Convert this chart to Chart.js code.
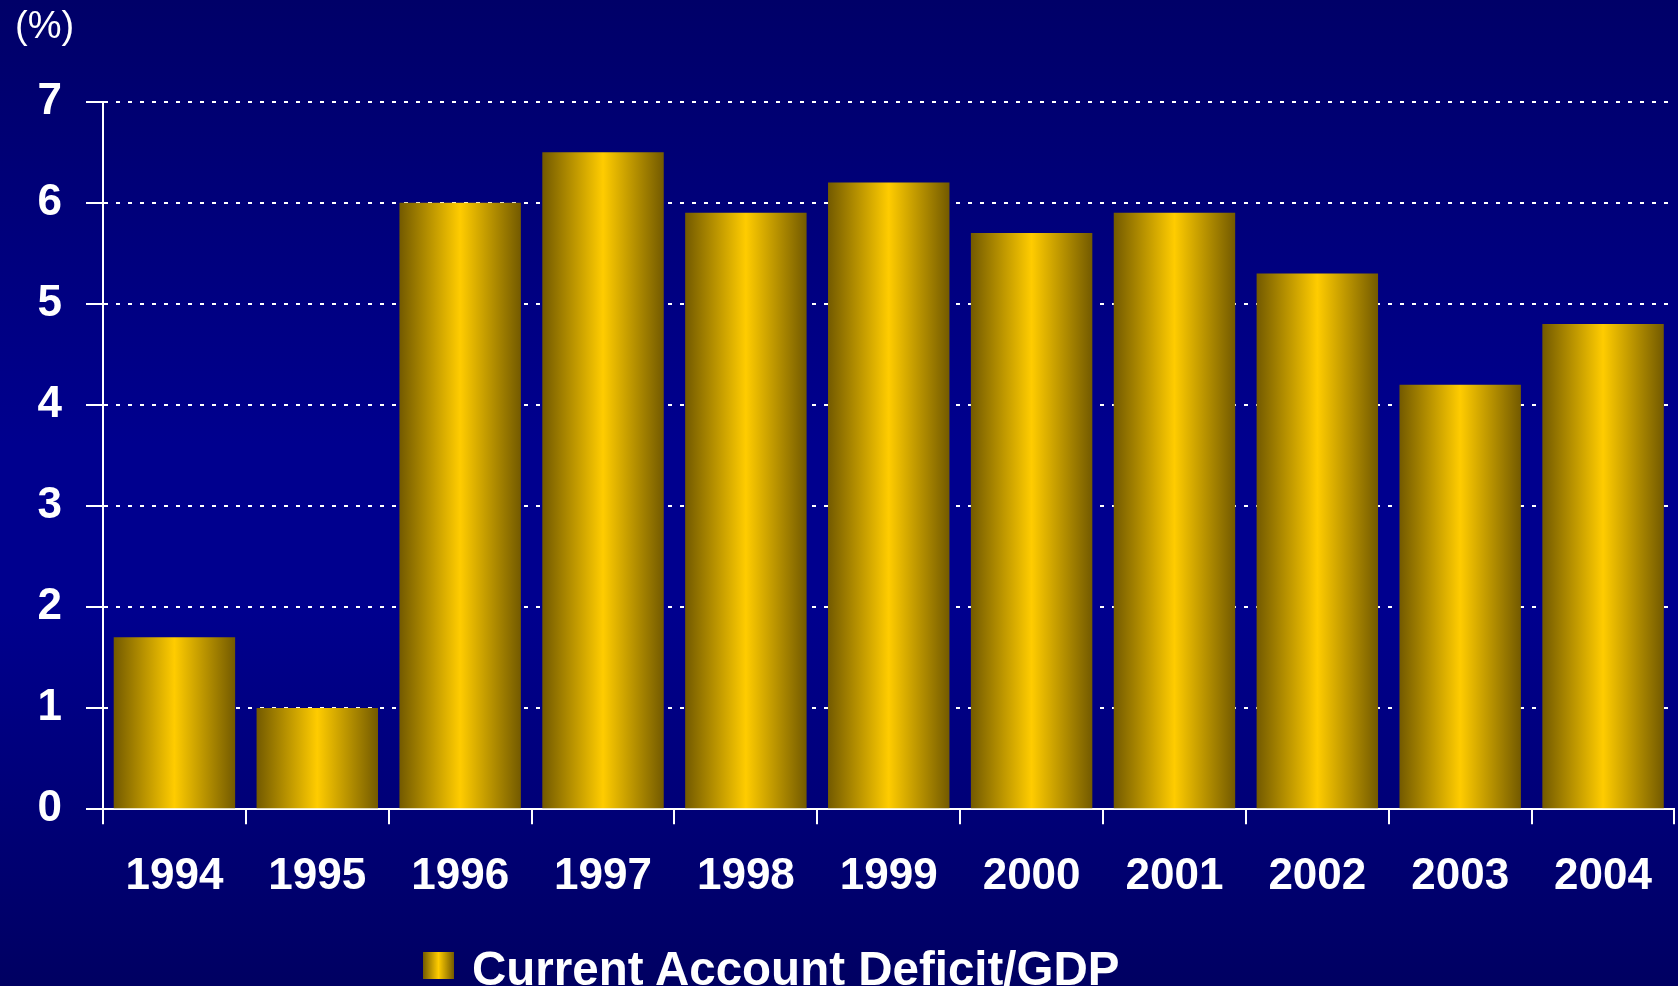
<!DOCTYPE html>
<html>
<head>
<meta charset="utf-8">
<script src="https://cdn.jsdelivr.net/npm/chart.js@4.4.1/dist/chart.umd.min.js"></script>
<style>
    html, body { margin: 0; padding: 0; }
    body { width: 1678px; height: 986px; overflow: hidden; }
    .chart-wrap {
        position: relative;
        width: 1678px;
        height: 986px;
        overflow: hidden;
        background: linear-gradient(to bottom, #000068 0%, #00008e 45%, #00008e 62%, #000062 100%);
    }
    .chart-legend {
        position: absolute;
        left: 423px;
        top: 945px;
        width: 800px;
        height: 47px;
    }
    .legend-box {
        position: absolute;
        left: 0;
        top: 7px;
        width: 31px;
        height: 27px;
        background: linear-gradient(to right, #735a00, #ffcc00 50%, #735a00);
    }
    .legend-text {
        position: absolute;
        left: 49px;
        top: 0;
        white-space: nowrap;
        font-family: 'Liberation Sans', Arial, sans-serif;
        font-weight: bold;
        font-size: 47.5px;
        line-height: 47px;
        color: #fff;
    }
</style>
</head>
<body>
<div class="chart-wrap">
    <canvas id="deficitChart"></canvas>
    <div class="chart-legend" id="deficitLegend"></div>
</div>
<script>
const YEARS = ['1994', '1995', '1996', '1997', '1998', '1999', '2000', '2001', '2002', '2003', '2004'];
const DEFICIT_GDP = [1.7, 1.0, 6.0, 6.5, 5.9, 6.2, 5.7, 5.9, 5.3, 4.2, 4.8];
const Y_MIN = 0;
const Y_MAX = 7;
const Y_STEP = 1;
const SERIES_LABEL = 'Current Account Deficit/GDP';
const UNIT_LABEL = '(%)';

const BAR_SHARE = 0.85;
const GOLD_DARK = '#735a00';
const GOLD = '#ffcc00';
const FONT = "'Liberation Sans', Arial, sans-serif";

function barGradient(ctx) {
    const chart = ctx.chart;
    const x = chart.scales.x;
    if (ctx.type !== 'data' || !x || !chart.chartArea) return GOLD;
    const center = x.getPixelForValue(ctx.dataIndex);
    const half = x.width / YEARS.length * BAR_SHARE / 2;
    const g = chart.ctx.createLinearGradient(center - half, 0, center + half, 0);
    g.addColorStop(0, GOLD_DARK);
    g.addColorStop(0.5, GOLD);
    g.addColorStop(1, GOLD_DARK);
    return g;
}

new Chart(document.getElementById('deficitChart'), {
    type: 'bar',
    data: {
        labels: YEARS,
        datasets: [{
            label: SERIES_LABEL,
            data: DEFICIT_GDP,
            backgroundColor: barGradient,
            borderWidth: 0,
            categoryPercentage: BAR_SHARE,
            barPercentage: 1
        }]
    },
    options: {
        responsive: true,
        maintainAspectRatio: false,
        animation: false,
        layout: { padding: { top: 5, left: 15, right: 0, bottom: 57 } },
        plugins: {
            legend: { display: false },
            tooltip: { enabled: false },
            title: {
                display: true,
                text: UNIT_LABEL,
                align: 'start',
                color: '#fff',
                font: { family: FONT, size: 38, weight: 'normal' },
                padding: { top: 0, bottom: 51 }
            }
        },
        scales: {
            x: {
                grid: { drawOnChartArea: false, color: '#fff', tickLength: 15, lineWidth: 2 },
                border: { color: '#fff', width: 2 },
                ticks: { color: '#fff', padding: 26, font: { family: FONT, size: 44, weight: 'bold' } }
            },
            y: {
                min: Y_MIN,
                max: Y_MAX,
                afterFit: scale => { scale.width = 88; },
                grid: { color: '#fff', lineWidth: 2, tickLength: 17 },
                border: { color: '#fff', width: 2, dash: [4, 8] },
                ticks: { stepSize: Y_STEP, color: '#fff', padding: 24, font: { family: FONT, size: 44, weight: 'bold' } }
            }
        }
    }
});

document.getElementById('deficitLegend').innerHTML = `
    <span class="legend-box"></span>
    <span class="legend-text">${SERIES_LABEL}</span>`;
</script>
</body>
</html>
